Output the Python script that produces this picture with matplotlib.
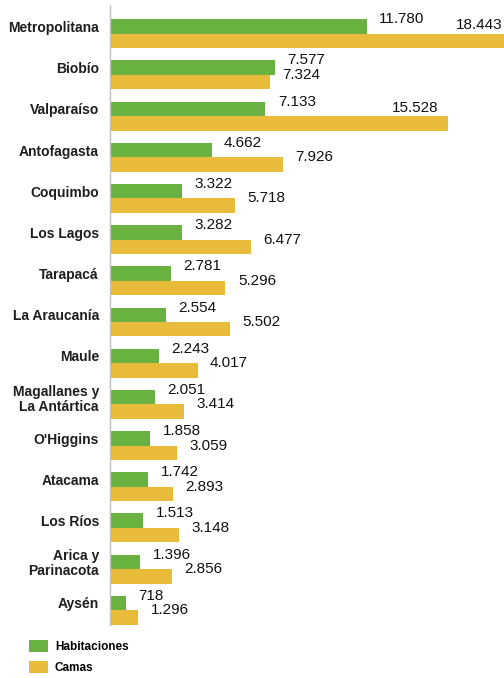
import numpy as np
import matplotlib
matplotlib.use('Agg')
import matplotlib.pyplot as plt

regiones = ['Metropolitana', 'Biobío', 'Valparaíso', 'Antofagasta', 'Coquimbo',
            'Los Lagos', 'Tarapacá', 'La Araucanía', 'Maule',
            'Magallanes y\nLa Antártica', "O'Higgins", 'Atacama', 'Los Ríos',
            'Arica y\nParinacota', 'Aysén']
habitaciones = [11780, 7577, 7133, 4662, 3322, 3282, 2781, 2554, 2243,
                2051, 1858, 1742, 1513, 1396, 718]
camas = [18443, 7324, 15528, 7926, 5718, 6477, 5296, 5502, 4017,
         3414, 3059, 2893, 3148, 2856, 1296]

verde = '#69B241'
dorado = '#E8BC3A'
xmax = 18080

def fmt(v):
    return f'{v:,}'.replace(',', '.')

fig = plt.figure(figsize=(5.04, 6.78), dpi=100)
ax = fig.add_axes([110/504, 1 - 625/678, 1 - 110/504, 620/678])

y = np.arange(len(regiones))
h = 0.352
b1 = ax.barh(y - h/2, habitaciones, h, color=verde, label='Habitaciones')
b2 = ax.barh(y + h/2, camas, h, color=dorado, label='Camas')

ax.set_xlim(0, xmax)
ax.set_ylim(14.36, -0.70)
ax.set_xticks([])
ax.set_yticks(y - h/2)
ax.set_yticklabels(regiones, fontsize=10, fontweight='bold', color='#1e1e1e',
                   family=['Liberation Sans', 'DejaVu Sans'], linespacing=1.1)
ax.tick_params(axis='y', length=0, pad=8)
for s in ['top', 'right', 'bottom']:
    ax.spines[s].set_visible(False)
ax.spines['left'].set_color('#BFBFBF')
ax.spines['left'].set_linewidth(1)

txt = dict(fontsize=11, color='#111111', va='center',
           family=['Liberation Sans', 'DejaVu Sans'], annotation_clip=False)

for yi, v in zip(y, habitaciones):
    ax.annotate(fmt(v), (v, yi - h), xytext=(9, 0), textcoords='offset points',
                ha='left', **txt)

for yi, v in zip(y, camas):
    if v > 15000:
        # no cabe a la derecha: se pone encima del final de la barra
        xv = min(v, xmax)
        dx = -1 if v > xmax else -7
        ax.annotate(fmt(v), (xv, yi), xytext=(dx, 6), textcoords='offset points',
                    ha='right', **txt)
    else:
        ax.annotate(fmt(v), (v, yi), xytext=(9, 0), textcoords='offset points',
                    ha='left', **txt)

fig.legend(handles=[b1, b2], loc='upper left',
           bbox_to_anchor=(29/504, 1 - 640/678), frameon=False,
           borderpad=0, borderaxespad=0, handlelength=1.6, handleheight=1.2,
           handletextpad=0.6, labelspacing=0.66,
           prop={'family': 'Liberation Sans', 'weight': 'bold', 'size': 8.5})

plt.savefig('out.png', dpi=100)
